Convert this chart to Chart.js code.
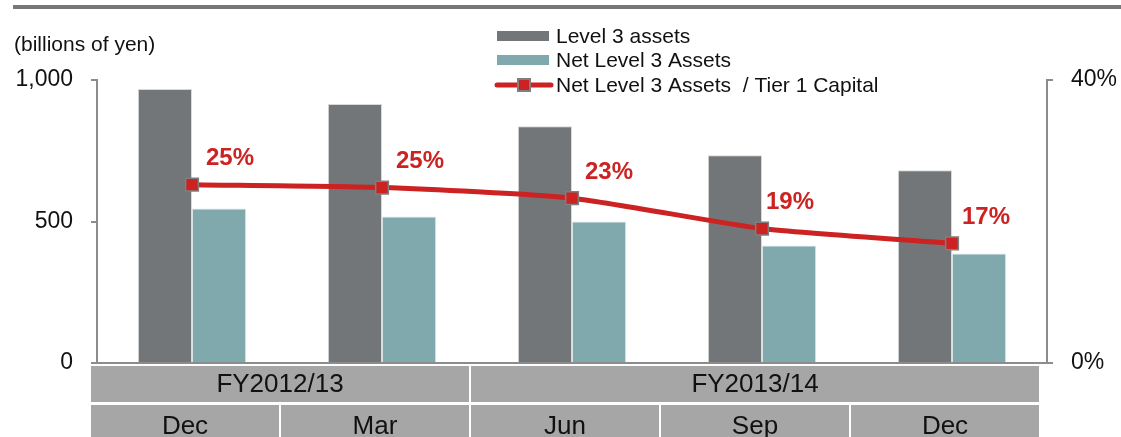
<!DOCTYPE html>
<html>
<head>
<meta charset="utf-8">
<script src="https://cdn.jsdelivr.net/npm/chart.js@4.4.1/dist/chart.umd.min.js"></script>
<style>
    html, body { margin: 0; padding: 0; background: #fff; }
    #chartBox { width: 1121px; height: 437px; overflow: hidden; }
</style>
</head>
<body>
<div id="chartBox"><canvas id="level3Chart" width="1121" height="437"></canvas></div>
<script>
// date
const months = ["Dec", "Mar", "Jun", "Sep", "Dec"];
const fiscalYears = ["FY2012/13", "FY2013/14"];
const fiscalSpan = [2, 3]; // cate luni acopera fiecare an fiscal
const level3Assets = [968, 915, 837, 734, 681];
const netLevel3Assets = [546, 518, 500, 415, 387];
const netToTier1 = [25.2, 24.8, 23.3, 19.0, 16.9];
const ratioLabels = ["25%", "25%", "23%", "19%", "17%"];
const leftTicks = [0, 500, 1000];
const rightTicks = [0, 40];

const FONT = "'Liberation Sans', Arial, sans-serif";
const AXIS_GREY = "#8c8c8c";
const labelShiftX = [38, 38, 37, 28, 34]; // deplasarea etichetelor % fata de punct

// linia gri de sus, unitatea, legenda, etichetele % si tabelul de jos
const decorPlugin = {
    id: "decor",
    afterDraw(chart) {
        const ctx = chart.ctx;
        const x = chart.scales.x;
        ctx.save();

        // bara gri de sus
        ctx.fillStyle = "#777777";
        ctx.fillRect(13, 5, chart.width - 13, 4);

        // unitatea
        ctx.fillStyle = "#111";
        ctx.font = "21px " + FONT;
        ctx.textAlign = "left";
        ctx.textBaseline = "middle";
        ctx.fillText("(billions of yen)", 14, 45);

        // legenda
        const ds = chart.data.datasets;
        const legendX = 497;
        const rowsY = [36, 60, 85];
        ds.forEach((d, i) => {
            const y = rowsY[i];
            if (d.type === "line") {
                ctx.strokeStyle = d.borderColor;
                ctx.lineWidth = 5;
                ctx.lineCap = "round";
                ctx.beginPath();
                ctx.moveTo(legendX, y);
                ctx.lineTo(legendX + 54, y);
                ctx.stroke();
                ctx.fillStyle = d.pointBorderColor;
                ctx.fillRect(legendX + 20, y - 7, 14, 14);
                ctx.fillStyle = d.pointBackgroundColor;
                ctx.fillRect(legendX + 22, y - 5, 10, 10);
            } else {
                ctx.fillStyle = d.backgroundColor;
                ctx.fillRect(legendX, y - 5, 52, 10);
            }
            ctx.fillStyle = "#111";
            ctx.font = "21px " + FONT;
            ctx.textAlign = "left";
            ctx.fillText(d.label, legendX + 59, y + 1);
        });

        // etichetele procentuale
        const lineMeta = chart.getDatasetMeta(2);
        ctx.fillStyle = "#cc2222";
        ctx.font = "bold 24px " + FONT;
        ctx.textAlign = "center";
        lineMeta.data.forEach((pt, i) => {
            ctx.fillText(ratioLabels[i], pt.x + labelShiftX[i], pt.y - 26);
        });

        // tabelul cu perioade
        const step = x.getPixelForValue(1) - x.getPixelForValue(0);
        const shift = -7;
        const edge = i => x.getPixelForValue(i) - step / 2 + shift;
        ctx.textBaseline = "middle";
        let start = 0;
        fiscalYears.forEach((fy, k) => {
            const l = edge(start) + 1;
            const r = edge(start + fiscalSpan[k]) - 1;
            ctx.fillStyle = "#a6a6a6";
            ctx.fillRect(l, 366, r - l, 36);
            ctx.fillStyle = "#111";
            ctx.font = "26px " + FONT;
            ctx.fillText(fy, (l + r) / 2, 385);
            start += fiscalSpan[k];
        });
        months.forEach((m, i) => {
            const l = edge(i) + 1;
            const r = edge(i + 1) - 1;
            ctx.fillStyle = "#a6a6a6";
            ctx.fillRect(l, 405, r - l, 40);
            ctx.fillStyle = "#111";
            ctx.font = "26px " + FONT;
            ctx.fillText(m, (l + r) / 2, 427);
        });

        ctx.restore();
    }
};

const ctx = document.getElementById("level3Chart").getContext("2d");
const level3Chart = new Chart(ctx, {
    data: {
        labels: months,
        datasets: [
            {
                type: "bar",
                label: "Level 3 assets",
                data: level3Assets,
                backgroundColor: "#737679",
                borderColor: "#d9d9d9",
                borderWidth: 1,
                yAxisID: "y",
                order: 2
            },
            {
                type: "bar",
                label: "Net Level 3 Assets",
                data: netLevel3Assets,
                backgroundColor: "#80a9ad",
                borderColor: "#d9e4e5",
                borderWidth: 1,
                yAxisID: "y",
                order: 2
            },
            {
                type: "line",
                label: "Net Level 3 Assets  / Tier 1 Capital",
                data: netToTier1,
                borderColor: "#cc2222",
                borderWidth: 5,
                pointStyle: "rect",
                pointRadius: 9,
                pointBackgroundColor: "#cc2222",
                pointBorderColor: "#7f7f7f",
                pointBorderWidth: 1.5,
                tension: 0.2,
                yAxisID: "y1",
                order: 1
            }
        ]
    },
    options: {
        responsive: false,
        maintainAspectRatio: false,
        animation: false,
        layout: { padding: { top: 80, bottom: 66, left: 0, right: 0 } },
        datasets: {
            bar: { categoryPercentage: 0.57, barPercentage: 1.0 }
        },
        plugins: {
            legend: { display: false },
            tooltip: { enabled: false }
        },
        scales: {
            x: {
                offset: true,
                grid: { display: false },
                ticks: { display: false },
                border: { color: AXIS_GREY, width: 2 }
            },
            y: {
                position: "left",
                min: 0,
                max: 1000,
                afterFit: s => { s.width = 97; },
                afterBuildTicks: s => { s.ticks = leftTicks.map(v => ({ value: v })); },
                ticks: {
                    padding: 18,
                    color: "#111",
                    font: { family: FONT, size: 23 },
                    callback: v => v.toLocaleString("en-US")
                },
                grid: { drawOnChartArea: false, drawTicks: true, tickLength: 6, color: AXIS_GREY, lineWidth: 2 },
                border: { color: AXIS_GREY, width: 2 }
            },
            y1: {
                position: "right",
                min: 0,
                max: 40,
                afterFit: s => { s.width = 74; },
                afterBuildTicks: s => { s.ticks = rightTicks.map(v => ({ value: v })); },
                ticks: {
                    padding: 18,
                    color: "#111",
                    font: { family: FONT, size: 23 },
                    callback: v => v + "%"
                },
                grid: { drawOnChartArea: false, drawTicks: true, tickLength: 6, color: AXIS_GREY, lineWidth: 2 },
                border: { color: AXIS_GREY, width: 2 }
            }
        }
    },
    plugins: [decorPlugin]
});
</script>
</body>
</html>
